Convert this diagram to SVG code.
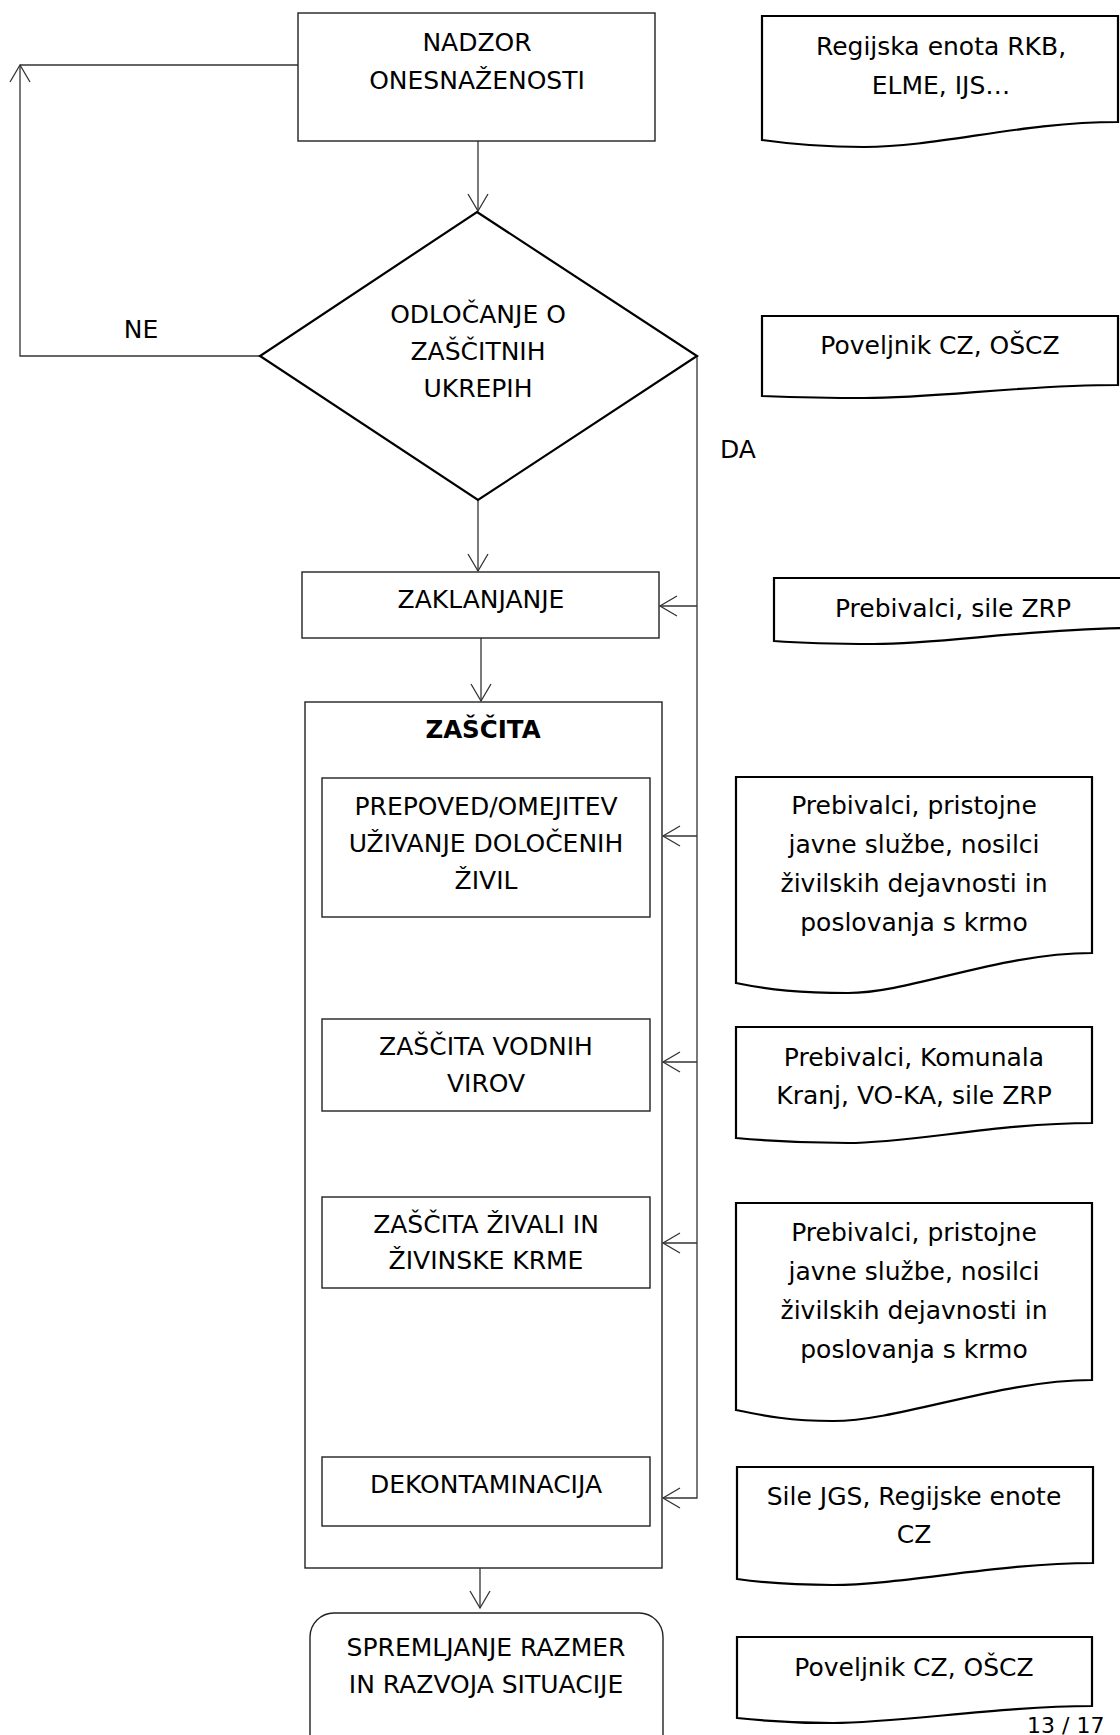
<svg xmlns="http://www.w3.org/2000/svg" width="1120" height="1735" viewBox="0 0 1120 1735">
<style>
  text { font-family: "DejaVu Sans", Verdana, sans-serif; font-size: 25px; fill: #000; text-anchor: middle; }
  .b { font-weight: bold; font-size: 24.5px; }
  .box { fill: #fff; stroke: #222; stroke-width: 1.4; }
  .dia { fill: #fff; stroke: #000; stroke-width: 2.2; }
  .doc { fill: #fff; stroke: #000; stroke-width: 2.2; }
  .con { fill: none; stroke: #333; stroke-width: 1.3; }
  .pg { font-size: 22px; text-anchor: start; }
</style>
<defs>
  <marker id="arr" markerUnits="userSpaceOnUse" markerWidth="22" markerHeight="26" viewBox="-20 -13 22 26" refX="0" refY="0" orient="auto">
    <path d="M-17,-10 L0,0 L-17,10" fill="none" stroke="#333" stroke-width="1.3"/>
  </marker>
</defs>
<rect width="1120" height="1735" fill="#fff"/>

<g id="zascita-container">
  <rect class="box" x="305" y="702" width="357" height="866"/>
  <text class="b" x="483" y="738">ZAŠČITA</text>
</g>

<g id="connectors">
  <path class="con" d="M478,141 V211" marker-end="url(#arr)"/>
  <path class="con" d="M478,500 V571" marker-end="url(#arr)"/>
  <path class="con" d="M481,638 V701" marker-end="url(#arr)"/>
  <path class="con" d="M480,1568 V1608" marker-end="url(#arr)"/>
  <path class="con" d="M260,356 H20 V65" marker-end="url(#arr)"/>
  <path class="con" d="M20,65 H298"/>
  <path class="con" d="M697,356 V1498 H663" marker-end="url(#arr)"/>
  <path class="con" d="M697,606 H660" marker-end="url(#arr)"/>
  <path class="con" d="M697,836 H663" marker-end="url(#arr)"/>
  <path class="con" d="M697,1062 H663" marker-end="url(#arr)"/>
  <path class="con" d="M697,1243 H663" marker-end="url(#arr)"/>
  <text x="141" y="338">NE</text>
  <text x="738" y="458">DA</text>
</g>

<g id="nadzor">
  <rect class="box" x="298" y="13" width="357" height="128"/>
  <text x="477" y="51">NADZOR</text>
  <text x="477" y="89">ONESNAŽENOSTI</text>
</g>

<g id="odlocanje">
  <polygon class="dia" points="477,212 697,356 478,500 260,356"/>
  <text x="478" y="323">ODLOČANJE O</text>
  <text x="478" y="360">ZAŠČITNIH</text>
  <text x="478" y="397">UKREPIH</text>
</g>

<g id="zaklanjanje">
  <rect class="box" x="302" y="572" width="357" height="66"/>
  <text x="481" y="608">ZAKLANJANJE</text>
</g>

<g id="prepoved">
  <rect class="box" x="322" y="778" width="328" height="139"/>
  <text x="486" y="815">PREPOVED/OMEJITEV</text>
  <text x="486" y="852">UŽIVANJE DOLOČENIH</text>
  <text x="486" y="889">ŽIVIL</text>
</g>

<g id="vodni-viri">
  <rect class="box" x="322" y="1019" width="328" height="92"/>
  <text x="486" y="1055">ZAŠČITA VODNIH</text>
  <text x="486" y="1092">VIROV</text>
</g>

<g id="zivali">
  <rect class="box" x="322" y="1197" width="328" height="91"/>
  <text x="486" y="1233">ZAŠČITA ŽIVALI IN</text>
  <text x="486" y="1269">ŽIVINSKE KRME</text>
</g>

<g id="dekontaminacija">
  <rect class="box" x="322" y="1457" width="328" height="69"/>
  <text x="486" y="1493">DEKONTAMINACIJA</text>
</g>

<g id="spremljanje">
  <rect class="box" x="310" y="1613" width="353" height="150" rx="24" ry="24"/>
  <text x="486" y="1656">SPREMLJANJE RAZMER</text>
  <text x="486" y="1693">IN RAZVOJA SITUACIJE</text>
</g>

<g id="doc-regijska">
  <path class="doc" d="M762,16 H1118 V122 C1020,122 940,147 864,147 C820,147 790,144 762,140 Z"/>
  <text x="941" y="55">Regijska enota RKB,</text>
  <text x="941" y="94">ELME, IJS…</text>
</g>

<g id="doc-poveljnik-1">
  <path class="doc" d="M762,316 H1118 V385 C1020,385 940,398 864,398 C820,398 790,397 762,396 Z"/>
  <text x="940" y="354">Poveljnik CZ, OŠCZ</text>
</g>

<g id="doc-prebivalci-zrp">
  <path class="doc" d="M774,578 H1124 V628 C1020,630 940,644 874,644 C830,644 800,643 774,641 Z"/>
  <text x="953" y="617">Prebivalci, sile ZRP</text>
</g>

<g id="doc-prebivalci-1">
  <path class="doc" d="M736,777 H1092 V953 C1000,953 910,993 848,993 C800,993 770,990 736,983 Z"/>
  <text x="914" y="814">Prebivalci, pristojne</text>
  <text x="914" y="853">javne službe, nosilci</text>
  <text x="914" y="892">živilskih dejavnosti in</text>
  <text x="914" y="931">poslovanja s krmo</text>
</g>

<g id="doc-komunala">
  <path class="doc" d="M736,1027 H1092 V1123 C1000,1123 910,1143 848,1143 C800,1143 770,1141 736,1138 Z"/>
  <text x="914" y="1066">Prebivalci, Komunala</text>
  <text x="914" y="1104">Kranj, VO-KA, sile ZRP</text>
</g>

<g id="doc-prebivalci-2">
  <path class="doc" d="M736,1203 H1092 V1380 C1000,1380 900,1421 833,1421 C790,1421 765,1416 736,1410 Z"/>
  <text x="914" y="1241">Prebivalci, pristojne</text>
  <text x="914" y="1280">javne službe, nosilci</text>
  <text x="914" y="1319">živilskih dejavnosti in</text>
  <text x="914" y="1358">poslovanja s krmo</text>
</g>

<g id="doc-jgs">
  <path class="doc" d="M737,1467 H1093 V1563 C1000,1563 900,1585 833,1585 C790,1585 765,1583 737,1579 Z"/>
  <text x="914" y="1505">Sile JGS, Regijske enote</text>
  <text x="914" y="1543">CZ</text>
</g>

<g id="doc-poveljnik-2">
  <path class="doc" d="M737,1637 H1092 V1706 C1000,1706 900,1723 833,1723 C790,1723 765,1721 737,1718 Z"/>
  <text x="914" y="1676">Poveljnik CZ, OŠCZ</text>
</g>

<text class="pg" x="1027" y="1733">13 / 17</text>
</svg>
